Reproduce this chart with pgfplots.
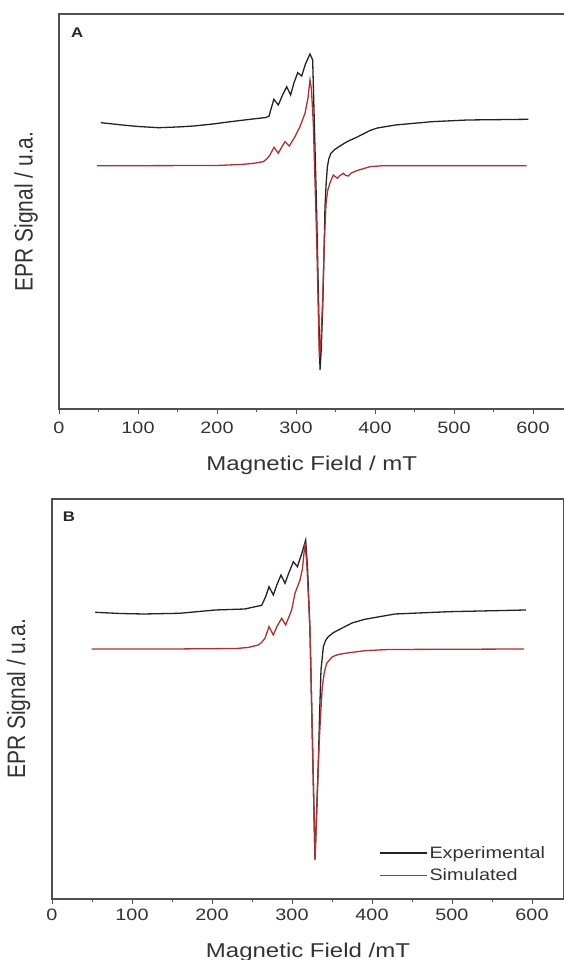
\documentclass[border=0pt]{standalone}
\usepackage{fontspec}
\setmainfont{Liberation Sans}
\usepackage{graphicx}
\usepackage{pgfplots}
\pgfplotsset{compat=1.18}
\newcommand\sx[1]{\scalebox{1.2}[1]{#1}}
\definecolor{expc}{RGB}{35,35,35}
\definecolor{simc}{RGB}{176,48,48}
\definecolor{framec}{RGB}{80,80,80}
\pgfplotsset{eprstyle/.style={
  scale only axis, xmin=0, xmax=640, ymin=0,
  xtick={0,100,...,600},
  xticklabels={\sx{0},\sx{100},\sx{200},\sx{300},\sx{400},\sx{500},\sx{600}},
  minor x tick num=1, ytick=\empty, xtick pos=bottom, tick align=outside,
  major tick length=5pt, minor tick length=3pt,
  axis line style={draw=framec, line width=1.3pt},
  tick style={draw=framec, line width=1pt},
  xticklabel style={font=\fontsize{16.5}{18}\selectfont, text=black!80},
  label style={text=black!80},
  xlabel style={font=\fontsize{20}{22}\selectfont, at={(axis description cs:0.5,0)}, anchor=center},
  ylabel style={font=\fontsize{21}{23}\selectfont, at={(axis description cs:-0.065,0.5)}, anchor=center},
  ylabel={\scalebox{1}[1.2]{EPR Signal / u.a.}},
}}
\begin{document}
\begin{tikzpicture}
\useasboundingbox (0,0) rectangle (563pt,960pt);
% Panel A
\begin{axis}[eprstyle, at={(59pt,551pt)}, anchor=south west,
  width=505.6pt, height=395pt, ymax=395,
  xticklabel style={yshift=-4pt},
  xlabel style={yshift=-56pt},
  xlabel={\sx{Magnetic Field / mT}}]
\addplot[expc, line width=1.3pt] coordinates {
(53,286.3) (80,284) (100,282.5) (126,281.3) (150,282) (171,283) (195,285) (217,287.3)
(240,289.5) (262,291.5) (266,293) (268,299) (272,309.7) (277.6,304) (283,314) (288.2,322.3)
(293.2,314) (297,325) (302.1,336.3) (307.2,333) (312,345) (317.7,355) (321.1,349)
(326,202) (328.5,110) (330.4,39) (332,60) (333.8,102) (335.3,150) (336.7,202) (338.2,226)
(339.7,242) (341.5,250) (344,255.5) (349,259.5) (355.7,263) (365,267.5) (376.8,271.7) (393.7,278.5)
(403,281) (426,284) (472,287.3) (517,289) (594,289.7)};
\addplot[simc, line width=1.3pt] coordinates {
(48,243.3) (100,243.3) (200,243.5) (230,244.5) (245,245.5) (258.6,247.3) (263,250) (267,254)
(272.2,261.7) (277.6,255.7) (282,262) (286,267.3) (291.5,263) (298.7,272.3) (305,282.3)
(311.4,295.7) (315,310) (317.7,329) (319.5,320) (321.9,285.7) (326.2,169) (329.5,52)
(331,60) (332.5,86) (333.8,110) (336,170) (338,205) (340,218) (343,226) (347.3,234)
(352.3,230.7) (355,233) (359.9,235.7) (363,233.5) (366.2,233) (370,236) (376.8,238.3)
(393.7,242.3) (410,243.3) (592,243.3)};
\node[font=\bfseries\fontsize{14}{14}\selectfont, text=black!85] at (rel axis cs:0.036,0.952) {\sx{A}};
\end{axis}
% Panel B
\begin{axis}[eprstyle, at={(52pt,61pt)}, anchor=south west,
  width=512pt, height=400pt, ymax=400,
  xticklabel style={yshift=-1pt},
  xlabel style={yshift=-53pt},
  xlabel={\sx{Magnetic Field /mT}},
  legend style={draw=none, fill=none, at={(axis cs:405,57)}, anchor=north west,
    font=\fontsize{16.5}{18}\selectfont, row sep=5pt, text=black!80},
  legend image code/.code={\draw[#1] (0pt,0pt) -- (47pt,0pt);},
  legend cell align=left]
\addplot[expc, line width=1.3pt] coordinates {
(54,286.7) (85,285.5) (114.5,285) (159.4,285.7) (204.3,289) (241,290) (258,293) (262,293.5)
(267.1,302.3) (271.25,312.3) (276.7,304) (281,314) (286.25,324) (291.25,315.7) (296,326)
(301.7,337.3) (306.7,332.3) (312,345) (317.1,359) (319.5,330) (322.5,269) (325.5,160)
(328.75,39) (330.5,80) (332.9,135.7) (334.5,185) (336.25,229) (339.2,252.3) (342,258.5) (345.4,262.3)
(352,266.5) (362.1,270.7) (375,276) (391,279.7) (428.7,285) (496,287.3) (592.5,289)};
\addlegendentry{\sx{Experimental}}
\addplot[simc, line width=1.3pt] coordinates {
(49.5,250) (150,250) (230,250.5) (245,251.5) (257.9,254) (262,256.5) (266.25,260.7)
(271.25,272.3) (276.7,264) (281.5,273) (287.1,280.7) (292.1,274) (299.6,289) (303.75,305.7)
(310,319) (313,330) (316.25,355.7) (318.5,335) (322.5,269) (325.5,160) (328.75,40.7)
(331,90) (333.75,152.3) (335.8,185) (337.9,212.3) (340.5,227) (343.3,235.7) (350.4,242.3)
(358,244.5) (366.25,245.7) (391.25,248.3) (420,249.5) (590,250)};
\addlegendentry{\sx{Simulated}}
\node[font=\bfseries\fontsize{14}{14}\selectfont, text=black!85] at (rel axis cs:0.033,0.955) {\sx{B}};
\end{axis}
\end{tikzpicture}
\end{document}
